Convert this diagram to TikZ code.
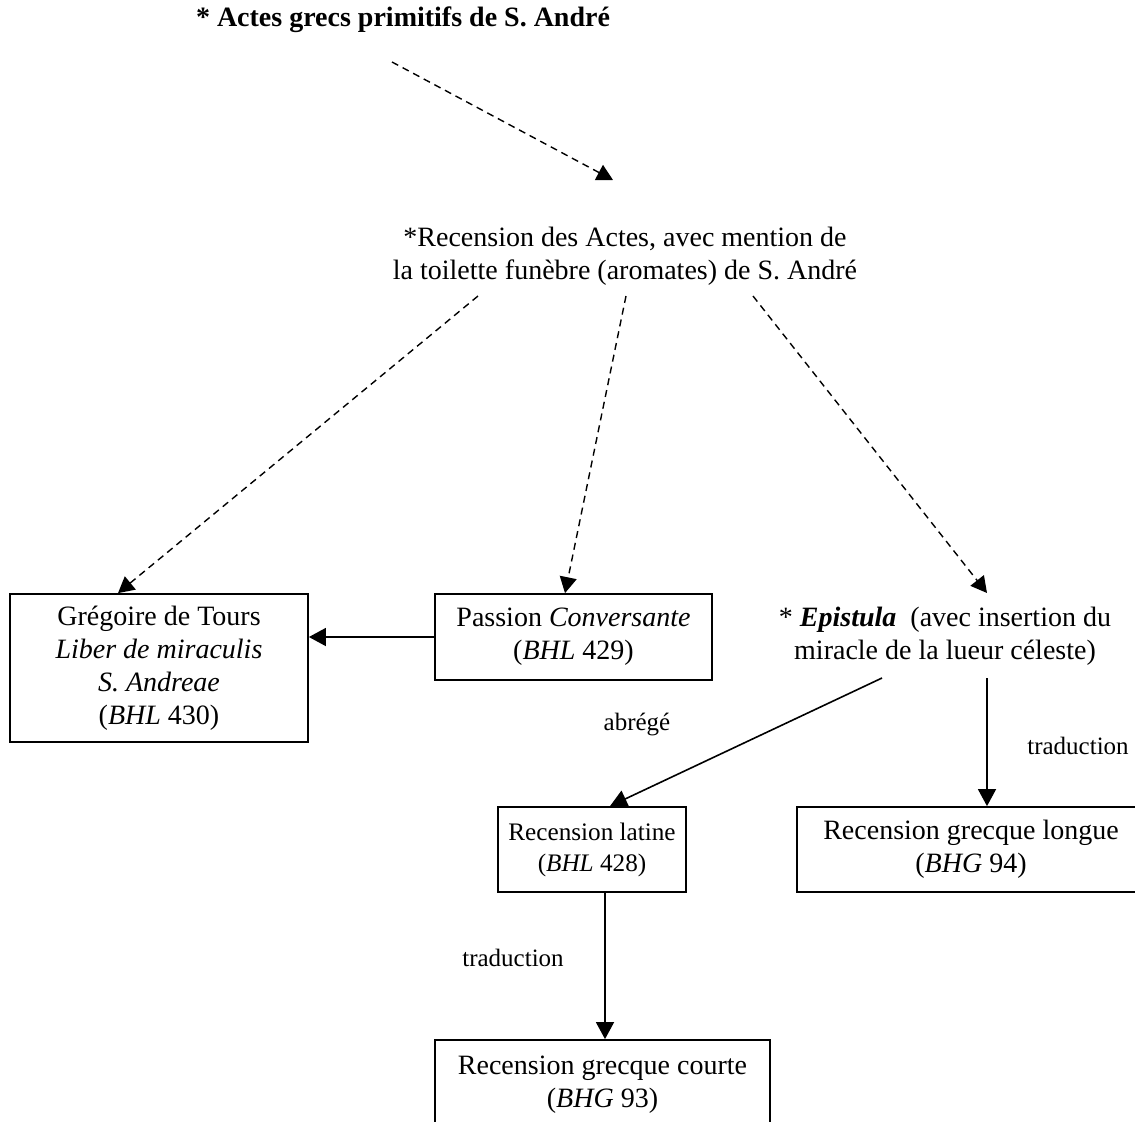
\documentclass[tikz,border=0pt]{standalone}
\usepackage{fontspec}
\setmainfont{Liberation Serif}
\usetikzlibrary{arrows.meta}
\tikzset{
  box/.style={draw, line width=0.9pt, align=center, inner sep=0pt,
    font=\fontsize{14}{16.5}\selectfont},
  smallbox/.style={box, font=\fontsize{12.6}{15.5}\selectfont},
  txt/.style={align=center, inner sep=0pt, font=\fontsize{14}{16.5}\selectfont},
  lbl/.style={inner sep=0pt, font=\fontsize{12.5}{15}\selectfont},
  darr/.style={line width=0.7pt, dash pattern=on 3.5pt off 2.5pt,
    -{Triangle[length=8pt,width=8.5pt]}},
  sarr/.style={line width=0.8pt, -{Triangle[length=8.5pt,width=9pt]}}
}
\begin{document}
\begin{tikzpicture}[x=0.5pt,y=-0.5pt]
\useasboundingbox (0,0) rectangle (1135,1121);
\fill[white] (0,0) rectangle (1135,1121);

\node[txt, font=\fontsize{14}{16.5}\selectfont\bfseries] (title) at (403,20) {* Actes grecs primitifs de S. André};
\node[txt] (rec) at (625,256) {*Recension des Actes, avec mention de\\la toilette funèbre (aromates) de S. André};

\node[box, minimum width=149pt, minimum height=74pt] (greg) at (159,668)
  {Grégoire de Tours\\\textit{Liber de miraculis}\\\textit{S. Andreae}\\(\textit{BHL} 430)};
\node[box, minimum width=138.5pt, minimum height=43pt] (pas) at (573.5,637)
  {Passion \textit{Conversante}\\(\textit{BHL} 429)};
\node[txt] (epi) at (945,636)
  {* \textbf{\textit{Epistula}}\ \ (avec insertion du\\miracle de la lueur céleste)};
\node[smallbox, minimum width=94pt, minimum height=42.5pt] (lat) at (592,849.5)
  {Recension latine\\(\textit{BHL} 428)};
\node[box, minimum width=174pt, minimum height=42.5pt] (long) at (971,849.5)
  {Recension grecque longue\\(\textit{BHG} 94)};
\node[box, minimum width=167.5pt, minimum height=45pt] (cour) at (602.5,1085)
  {Recension grecque courte\\(\textit{BHG} 93)};

\node[lbl] (l1) at (637,724) {abrégé};
\node[lbl] (l2) at (1078,746) {traduction};
\node[lbl] (l3) at (513,958) {traduction};

\draw[darr] ([shift={(-11,42)}]title.center) -- ([shift={(-12,-76)}]rec.center);
\draw[darr] ([shift={(-147,40)}]rec.center) -- ([shift={(-41,0)}]greg.north);
\draw[darr] ([shift={(1,40)}]rec.center) -- ([shift={(-8.5,0)}]pas.north);
\draw[darr] ([shift={(128,40)}]rec.center) -- ([shift={(42,-43)}]epi.center);

\draw[sarr] (pas.west) -- (pas.west -| greg.east);
\draw[sarr] ([shift={(-63,42)}]epi.center) -- ([shift={(18,0)}]lat.north);
\draw[sarr] ([shift={(42,42)}]epi.center) -- ([shift={(16,0)}]long.north);
\draw[sarr] ([shift={(13,0)}]lat.south) -- ([shift={(2.5,0)}]cour.north);
\end{tikzpicture}
\end{document}
